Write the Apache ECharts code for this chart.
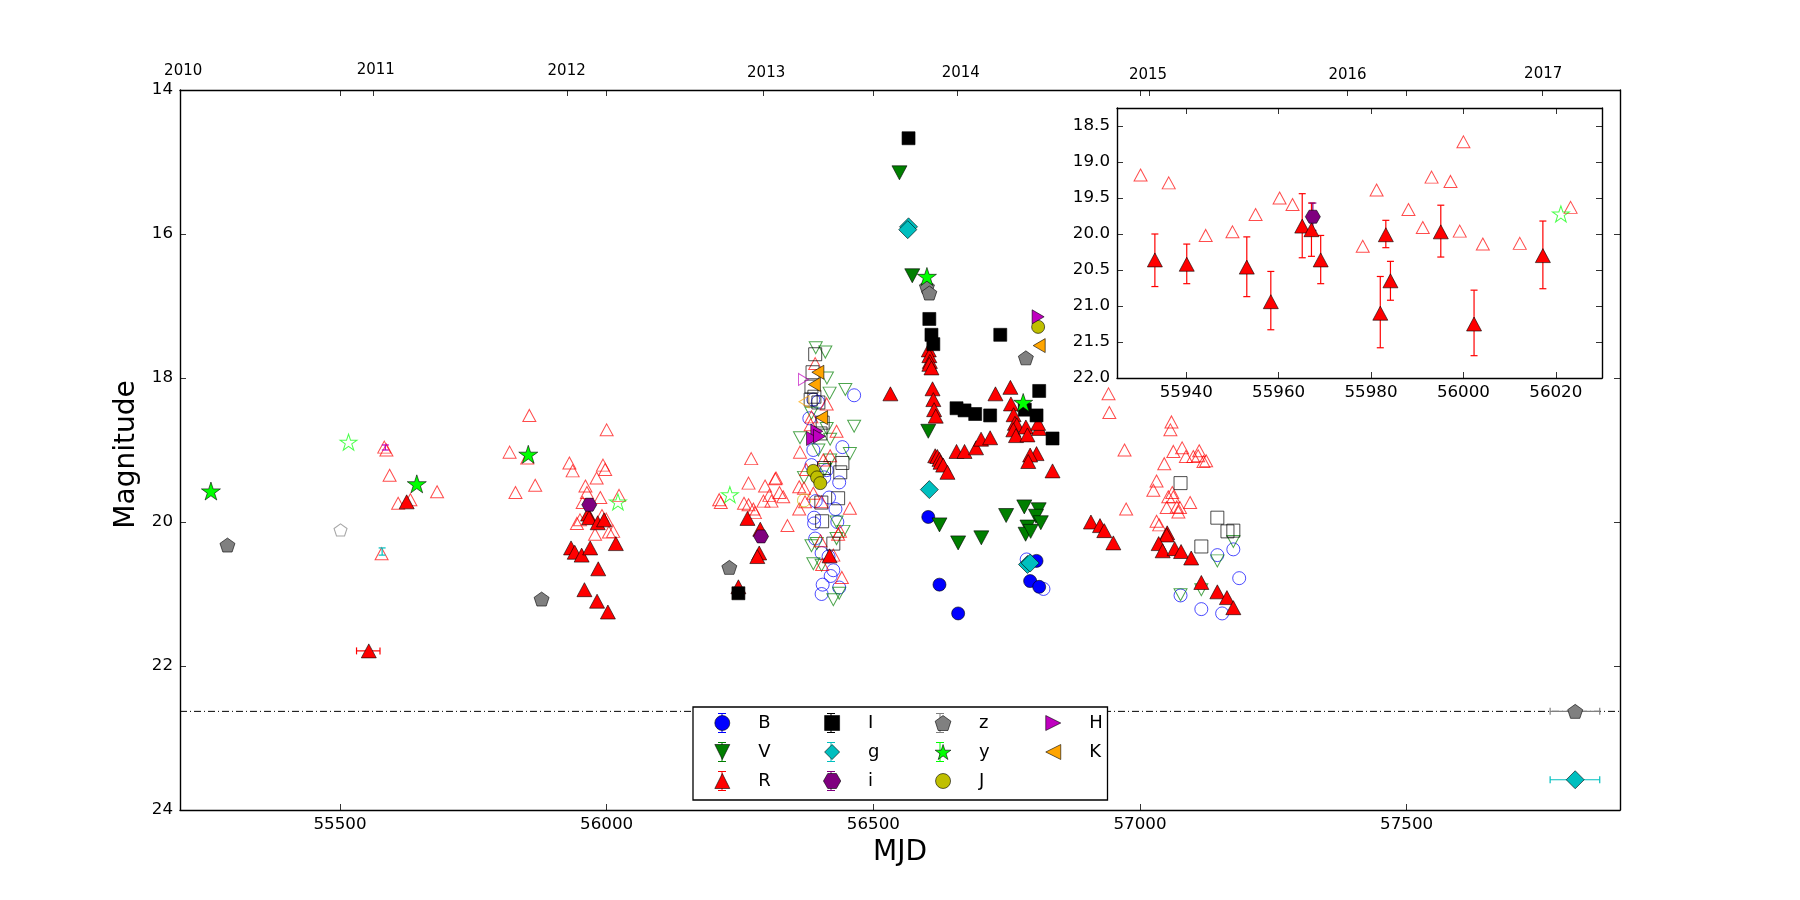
<!DOCTYPE html>
<html>
<head>
<meta charset="utf-8">
<style>
html, body { margin: 0; padding: 0; background: #fff; }
#chart { width: 1800px; height: 900px; }
</style>
<script src="https://cdn.jsdelivr.net/npm/echarts@6/dist/echarts.min.js"></script>
</head>
<body>
<div id="chart"></div>
<script>
// filled = detections, open = other observations, [MJD, mag]
var bFilled = [[56603,19.93],[56624,20.87],[56659,21.27],[56806,20.54],[56794,20.82],[56811,20.90]];
var bOpen = [[56464,18.24],[56442,18.96],[56387.5,19.0],[56384,19.21],[56412.5,19.28],[56408,19.38],[56436,19.45],[56417,19.66],[56392,19.71],[56429,19.82],[56389,19.94],[56389,20.02],[56432.5,20.0],[56391,20.23],[56403,20.43],[56416,20.48],[56425,20.67],[56420,20.75],[56405,20.87],[56436,20.91],[56403,21.0],[56380,18.56],[56396,18.33],[56387.5,18.3],[56787.5,20.52],[56819,20.93],[57145,20.46],[57175,20.38],[57186,20.78],[57076,21.02],[57115,21.21],[57154,21.27]];
var vFilled = [[56549,15.15],[56573,16.58],[56603,18.74],[56624,20.04],[56659,20.29],[56702.5,20.22],[56749,19.91],[56783,19.79],[56810,19.83],[56805,19.92],[56814,20.01],[56789,20.07],[56785.5,20.17],[56795,20.13]];
var vOpen = [[56392,17.58],[56410,17.64],[56413,18.0],[56418,18.21],[56447.5,18.16],[56464,18.67],[56362.5,18.83],[56419,18.85],[56397,19.0],[56456,19.05],[56419,19.14],[56370,19.38],[56384,18.49],[56412.5,18.70],[56409,19.27],[56384,20.33],[56394,20.30],[56431,20.0],[56444,20.13],[56431,20.23],[56387.5,20.58],[56403,20.60],[56436,20.99],[56425,21.08],[57175,20.27],[57145,20.54],[57115,20.94],[57076,21.01]];
var rFilled = [[55554,21.79],[55625,19.72],
    [55933.2,20.36],[55940.1,20.42],[55953.1,20.46],[55958.3,20.94],[55965.1,19.89],[55967.1,19.94],[55969.1,20.36],[55982,21.10],[55983.2,20.01],[55984.2,20.65],[55995.1,19.97],[56002.3,21.25],[56017.2,20.30],
    [56264,19.95],[56288,20.10],[56286,20.43],[56282.5,20.48],[56247,20.90],[56418,20.47],
    [56532,18.22],[56604,17.61],[56605,17.69],[56606,17.77],[56605,17.81],[56609,17.86],[56611,18.15],[56612.5,18.30],[56614,18.44],[56617,18.53],
    [56616,19.08],[56620,19.09],[56624,19.13],[56626,19.17],[56631,19.21],[56639,19.31],[56656,19.02],[56671,19.02],[56692.5,18.97],[56702,18.85],[56719,18.83],
    [56729,18.22],[56757,18.13],[56758,18.36],[56763,18.51],[56765.5,18.63],[56769,18.65],[56762.5,18.72],[56767.5,18.80],[56786,18.68],[56789,18.79],[56811,18.70],[56809,18.63],[56806,19.05],[56794,19.07],[56790.5,19.16],[56836,19.29],
    [56908,20.0],[56925,20.05],[56933,20.12],[56950,20.29],[57051,20.15],[57050,20.18],[57035,20.30],[57042.5,20.40],[57065,20.37],[57077,20.41],[57096,20.50],[57115,20.84],[57145,20.97],[57163,21.05],[57175,21.19]];
var rOpen = [[55583,18.96],[55587,19.0],[55593,19.35],[55609,19.74],[55632,19.69],[55682,19.58],[55578,20.44],[55818,19.03],[55855,18.52],[55851,19.11],[55829,19.59],[55866,19.49],
    [55930.1,19.18],[55936.2,19.29],[55944.2,20.02],[55950,19.97],[55955,19.73],[55960.2,19.50],[55963,19.59],[55978.2,20.17],[55981.2,19.39],[55988.1,19.66],[55991.2,19.91],[55993.1,19.21],[55997.2,19.27],[55999.2,19.96],[56000,18.72],[56004.2,20.14],[56012.2,20.13],[56023.2,19.63],
    [56271,19.12],[56266,19.46],[56317.5,19.39],[56316,19.40],[56297,19.50],[56324,19.59],[56305,19.63],[56331,19.65],[56211,19.69],[56214,19.73],[56257.5,19.74],[56266,19.76],[56294,19.71],[56309,19.71],[56275,19.82],[56278,19.87],[56339,20.05],
    [56362.5,19.03],[56391,17.80],[56431,18.74],[56412.5,18.36],[56419,19.08],[56361,19.51],[56370,19.53],[56361,19.82],[56372,19.72],[56374,19.27],[56406,19.14],[56456,19.81],[56384,18.54],[56382.5,18.65],[56387.5,19.60],[56403,19.72],[56401,20.26],[56437.5,20.13],[56434,20.17],[56404,20.59],[56425,20.46],[56441,20.77],
    [56941,18.22],[56942.5,18.48],[56971,19.0],[56974,19.82],[57059,18.61],[57057,18.72],[57079,18.97],[57062.5,19.02],[57045.5,19.19],[57031,19.43],[57025,19.56],[57086,19.09],[57100,19.09],[57111,19.01],[57109,19.08],[57119,19.16],[57124,19.15],[57060.5,19.59],[57053,19.65],[57062.5,19.65],[57050,19.80],[57069,19.79],[57075,19.80],[57094,19.73],[57072,19.86],[57031,19.99],[57036,20.04]];
var iFilled = [[56566,14.67],[56605,17.18],[56609,17.40],[56612.5,17.53],[56738,17.40],[56811,18.18],[56656,18.42],[56671,18.45],[56691,18.50],[56719,18.52],[56784,18.44],[56806,18.52],[56836,18.84],[56247,20.99]];
var iOpen = [[56391,17.67],[56386,17.92],[56384,18.12],[56382.5,18.30],[56389.5,18.26],[56397,18.34],[56405,18.62],[56401,18.77],[56442,19.18],[56438,19.31],[56407.5,19.25],[56402.5,19.73],[56434,19.67],[56404,19.99],[56425,20.30],[57076,19.46],[57145,19.94],[57164,20.13],[57175,20.12],[57115,20.34]];
var gFilled = [[56566,15.90],[56564.5,15.94],[56605,19.55],[56789,20.59],[56794,20.57],[57816,23.58]];
var iSmallFilled = [[55967.4,19.76],[56289.5,20.20]];
var zFilled = [[55289,20.32],[55878,21.07],[56230,20.63],[56600.5,16.73],[56605,16.82],[56786,17.72],[57816,22.63]];
var zOpen = [[55501,20.11]];
var yFilled = [[55258,19.57],[55644,19.47],[55853,19.06],[56600.5,16.59],[56781,18.34]];
var yOpen = [[55516,18.89],[56021.1,19.72],[56231,19.62]];
var jFilled = [[56387.5,19.29],[56394.5,19.38],[56400.5,19.46],[56809,17.29]];
var jOpen = [[56370,19.70]];
var hFilled = [[56394,18.74],[56386,18.84],[56399,18.81],[56809,17.15]];
var hOpen = [[56369,18.02]];
var kFilled = [[56396,17.92],[56389.5,18.09],[56403,18.55],[56811,17.55]];
var kOpen = [[56370,18.33]];

// [MJD, mag low, mag high]
var rBars = [[55933.2,20.00,20.73],[55940.1,20.14,20.69],[55953.1,20.04,20.87],[55958.3,20.52,21.33],[55965.1,19.44,20.33],[55967.1,19.57,20.31],[55969.1,20.02,20.69],[55982,20.59,21.58],[55983.2,19.81,20.19],[55984.2,20.38,20.92],[55995.1,19.60,20.32],[56002.3,20.78,21.69],[56017.2,19.82,20.76]];
var iSmallBars = [[55967.4,19.57,19.95]];
var gTinyBars = [[55579,20.36,20.46]];
var hTinyBars = [[55585,18.93,19.0]];
// [mag, MJD low, MJD high]
var rWide = [[21.79,55531,55575]];
var zWide = [[22.63,57769,57862]];
var gWide = [[23.58,57769,57862]];

var limitLine = [[55200,22.63],[57900,22.63]];
var mainTicks = [55500,56000,56500,57000,57500];
var yearTicks = [55563,55927,56293,56658,57017,57388,57754];
var yearLabelAt = [55206,55567,55925,56299,56664,57015,57389,57756];
var yearNames = ["2010","2011","2012","2013","2014","2015","2016","2017"];
var insetXTicks = [55940,55960,55980,56000,56020];
var insetYTicks = [18.5,19,19.5,20,20.5,21,21.5,22];
var bandNames = ["B","V","R","I","g","i","z","y","J","H","K"];

var P_DOWN = "path://M0,0L100,0L50,100Z";
var P_UP = "path://M0,100L100,100L50,0Z";
var P_LEFT = "path://M100,0L100,100L0,50Z";
var P_RIGHT = "path://M0,0L100,50L0,100Z";
var P_SQUARE = "path://M0,0L100,0L100,100L0,100Z";
var P_DIAMOND = "path://M50,0L100,50L50,100L0,50Z";
var P_HEX = "path://M0,43.3L25,0L75,0L100,43.3L75,86.6L25,86.6Z";
var P_PENT = "path://M50,0L100,36.3L80.9,95.1L19.1,95.1L0,36.3Z";
var P_STAR = "path://M50,0L61.2,34.5L97.6,34.5L68.2,55.9L79.4,90.5L50,69.1L20.6,90.5L31.8,55.9L2.4,34.5L38.8,34.5Z";
var P_CIRCLE = "path://M100,50A50,50,0,1,1,0,50A50,50,0,1,1,100,50Z";
var P_BAR = "path://M0,0H8V1H4.5V19H8V20H0V19H3.5V1H0Z";

var bandStyle = {
    B: { color: "#0000ff", symbol: "circle", size: 13, icon: P_CIRCLE },
    V: { color: "#007f00", symbol: P_DOWN, size: [15, 14], icon: P_DOWN },
    R: { color: "#ff0000", symbol: "triangle", size: [15, 14], icon: P_UP },
    I: { color: "#000000", symbol: "rect", size: 13, icon: P_SQUARE },
    g: { color: "#00bfbf", symbol: "diamond", size: 18, icon: P_DIAMOND },
    i: { color: "#7f007f", symbol: P_HEX, size: [15, 13], icon: P_HEX },
    z: { color: "#808080", symbol: P_PENT, size: [15, 14], icon: P_PENT },
    y: { color: "#00ff00", symbol: P_STAR, size: [19, 18], icon: P_STAR },
    J: { color: "#bfbf00", symbol: "circle", size: 13, icon: P_CIRCLE },
    H: { color: "#bf00bf", symbol: P_RIGHT, size: [12, 14], icon: P_RIGHT },
    K: { color: "#ffa500", symbol: P_LEFT, size: [12, 14], icon: P_LEFT }
};

function filled(name, data, axis) {
    var s = bandStyle[name];
    return {
        name: name,
        type: "scatter",
        data: data,
        xAxisIndex: axis,
        yAxisIndex: axis,
        symbol: s.symbol,
        symbolSize: s.size,
        z: 4,
        silent: true,
        itemStyle: { color: s.color, borderColor: "#000", borderWidth: 0.6, opacity: 1 }
    };
}

function open(name, data, axis) {
    var s = bandStyle[name];
    var size = typeof s.size == "number" ? s.size : [s.size[0] - 2, s.size[1] - 2];
    return {
        name: name + " open",
        type: "scatter",
        data: data,
        xAxisIndex: axis,
        yAxisIndex: axis,
        symbol: s.symbol,
        symbolSize: size,
        z: 2,
        silent: true,
        itemStyle: { color: "none", borderColor: s.color, borderWidth: 1, opacity: 0.7 }
    };
}

// error bars with caps, vertical
function vBars(name, data, axis) {
    return {
        name: name + " bars",
        type: "custom",
        data: data,
        xAxisIndex: axis,
        yAxisIndex: axis,
        z: 3,
        silent: true,
        encode: { x: 0, y: [1, 2] },
        renderItem: function (params, api) {
            var a = api.coord([api.value(0), api.value(1)]);
            var b = api.coord([api.value(0), api.value(2)]);
            return { type: "group", children: [
                barLine(a[0], a[1], b[0], b[1], bandStyle[name].color),
                barLine(a[0] - 3.5, a[1], a[0] + 3.5, a[1], bandStyle[name].color),
                barLine(b[0] - 3.5, b[1], b[0] + 3.5, b[1], bandStyle[name].color)
            ] };
        }
    };
}

// same thing, horizontal
function hBars(name, data, axis) {
    return {
        name: name + " wide",
        type: "custom",
        data: data,
        xAxisIndex: axis,
        yAxisIndex: axis,
        z: 3,
        silent: true,
        encode: { x: [1, 2], y: 0 },
        renderItem: function (params, api) {
            var a = api.coord([api.value(1), api.value(0)]);
            var b = api.coord([api.value(2), api.value(0)]);
            return { type: "group", children: [
                barLine(a[0], a[1], b[0], b[1], bandStyle[name].color),
                barLine(a[0], a[1] - 3.5, a[0], a[1] + 3.5, bandStyle[name].color),
                barLine(b[0], b[1] - 3.5, b[0], b[1] + 3.5, bandStyle[name].color)
            ] };
        }
    };
}

function barLine(x1, y1, x2, y2, color) {
    return {
        type: "line",
        shape: { x1: x1, y1: y1, x2: x2, y2: y2 },
        style: { stroke: color, lineWidth: 1.2 }
    };
}

var FONT = "DejaVu Sans";
var axisLine = { show: true, onZero: false, lineStyle: { color: "#000", width: 1.4 } };
function ticks(values) {
    var t = { show: true, inside: true, length: 6, lineStyle: { color: "#000", width: 0.8 } };
    if (values) t.customValues = values;
    return t;
}
var noLabel = { show: false };
var plainNumber = function (v) { return String(v); };

var yearLift = [4, 5, 4, 2, 2, 0, 0, 1];
var yearRich = {};
yearLift.forEach(function (v, i) {
    yearRich["y" + i] = { fontFamily: FONT, fontSize: 15, color: "#000", padding: [0, 0, v, 0] };
});

var series = [
    { name: "limit", type: "line", data: limitLine, showSymbol: false, silent: true, z: 1,
      lineStyle: { color: "#000", width: 1, type: [7, 3, 1, 3] } },
    open("B", bOpen, 0), open("V", vOpen, 0), open("R", rOpen, 0), open("I", iOpen, 0), open("z", zOpen, 0),
    open("y", yOpen, 0), open("J", jOpen, 0), open("H", hOpen, 0), open("K", kOpen, 0),
    vBars("g", gTinyBars, 0), vBars("H", hTinyBars, 0), hBars("R", rWide, 0), hBars("z", zWide, 0), hBars("g", gWide, 0),
    filled("B", bFilled, 0), filled("V", vFilled, 0), filled("R", rFilled, 0), filled("I", iFilled, 0), filled("g", gFilled, 0),
    filled("i", iSmallFilled, 0), filled("z", zFilled, 0), filled("y", yFilled, 0), filled("J", jFilled, 0),
    filled("H", hFilled, 0), filled("K", kFilled, 0),
    // inset
    open("R", rOpen, 2), open("y", yOpen, 2), vBars("R", rBars, 2), vBars("i", iSmallBars, 2),
    filled("R", rFilled, 2), filled("i", iSmallFilled, 2)
];

var noBar = { J: 1, H: 1, K: 1 };
var CLEAR = "rgba(255,255,255,0)";

var option = {
    backgroundColor: "#fff",
    animation: false,
    tooltip: { show: false },
    textStyle: { fontFamily: FONT },
    grid: [
        { left: 180, top: 90, width: 1440, height: 720 },
        { left: 1117, top: 108, width: 485, height: 270 }
    ],
    legend: [
        // back one: box and the error bars
        {
            z: 5, left: 693, top: 707, height: 93, orient: "vertical", selectedMode: false,
            padding: [6, 0, 9, 25], itemGap: 9, itemWidth: 58, itemHeight: 20,
            backgroundColor: "#fff", borderColor: "#000", borderWidth: 1.3,
            formatter: function (name) {
                return (name == "H" || name == "K") ? "{b| }" : "{a| }";
            },
            textStyle: { fontSize: 10, color: "transparent", rich: {
                a: { width: 62, backgroundColor: CLEAR },
                b: { width: 24.5, backgroundColor: CLEAR }
            } },
            data: bandNames.map(function (n) {
                return {
                    name: n, icon: P_BAR,
                    itemStyle: { color: noBar[n] ? "transparent" : bandStyle[n].color, borderWidth: 0, opacity: noBar[n] ? 0 : 1 }
                };
            })
        },
        // front one: markers and names
        {
            z: 6, left: 714.5, top: 714, height: 90, orient: "vertical", selectedMode: false,
            padding: 0, itemGap: 11, itemWidth: 62, itemHeight: 15,
            itemStyle: { borderColor: "#000", borderWidth: 0.6 },
            formatter: function (name) { return "{t|" + name + "}"; },
            textStyle: { color: "#000", rich: { t: { fontFamily: FONT, fontSize: 18, color: "#000", width: 55, backgroundColor: CLEAR } } },
            data: bandNames.map(function (n) { return { name: n, icon: bandStyle[n].icon }; })
        }
    ],
    xAxis: [
        {
            gridIndex: 0, type: "value", min: 55200, max: 57900, position: "bottom",
            name: "MJD", nameLocation: "middle", nameGap: 29,
            nameTextStyle: { fontFamily: FONT, fontSize: 28, color: "#000" },
            axisLine: axisLine, axisTick: ticks(mainTicks), splitLine: { show: false },
            axisLabel: { customValues: mainTicks, fontFamily: FONT, fontSize: 16.7, color: "#000", margin: 6, formatter: plainNumber }
        },
        {
            gridIndex: 0, type: "value", min: 55200, max: 57900, position: "top",
            axisLine: axisLine, axisTick: ticks(mainTicks.concat(yearTicks)), splitLine: { show: false },
            axisLabel: {
                customValues: yearLabelAt, margin: 7, rich: yearRich,
                formatter: function (v) {
                    var i = yearLabelAt.indexOf(v);
                    return "{y" + i + "|" + yearNames[i] + "}";
                }
            }
        },
        {
            gridIndex: 1, type: "value", min: 55925, max: 56030, position: "bottom",
            axisLine: axisLine, axisTick: ticks(insetXTicks), splitLine: { show: false },
            axisLabel: { customValues: insetXTicks, fontFamily: FONT, fontSize: 16.7, color: "#000", margin: 6, formatter: plainNumber }
        },
        {
            gridIndex: 1, type: "value", min: 55925, max: 56030, position: "top",
            axisLine: axisLine, axisTick: ticks(insetXTicks), splitLine: { show: false }, axisLabel: noLabel
        }
    ],
    yAxis: [
        {
            gridIndex: 0, type: "value", min: 14, max: 24, interval: 2, inverse: true, position: "left",
            name: "Magnitude", nameLocation: "middle", nameGap: 28,
            nameTextStyle: { fontFamily: FONT, fontSize: 28, color: "#000", padding: [0, 9, 0, 0] },
            axisLine: axisLine, axisTick: ticks(), splitLine: { show: false },
            axisLabel: { fontFamily: FONT, fontSize: 16.7, color: "#000", margin: 7 }
        },
        {
            gridIndex: 0, type: "value", min: 14, max: 24, interval: 2, inverse: true, position: "right",
            axisLine: axisLine, axisTick: ticks(), splitLine: { show: false }, axisLabel: noLabel
        },
        {
            gridIndex: 1, type: "value", min: 18.25, max: 22, inverse: true, position: "left",
            axisLine: axisLine, axisTick: ticks(insetYTicks), splitLine: { show: false },
            axisLabel: { customValues: insetYTicks, fontFamily: FONT, fontSize: 16.7, color: "#000", margin: 7,
                formatter: function (v) { return v.toFixed(1); } }
        },
        {
            gridIndex: 1, type: "value", min: 18.25, max: 22, inverse: true, position: "right",
            axisLine: axisLine, axisTick: ticks(insetYTicks), splitLine: { show: false }, axisLabel: noLabel
        }
    ],
    series: series
};

var chart = echarts.init(document.getElementById("chart"));
chart.setOption(option);
</script>
</body>
</html>
